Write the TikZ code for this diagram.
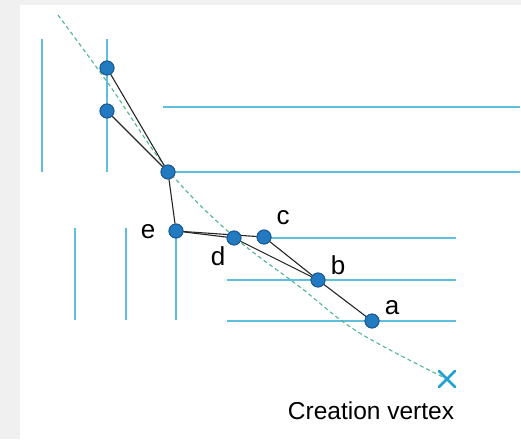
\documentclass[tikz,border=0pt]{standalone}
\usepackage{fontspec}
\setmainfont{Liberation Sans}
\usetikzlibrary{calc}
\definecolor{cGuide}{RGB}{ 94,190,224}
\definecolor{cVert} {RGB}{ 34,122,192}
\definecolor{cEdge} {RGB}{ 28, 88,148}
\definecolor{cPath} {RGB}{ 82,182,140}
\definecolor{cCross}{RGB}{ 34,160,214}
\definecolor{cShade}{RGB}{240,240,240}

\begin{document}
\begin{tikzpicture}[
  x=1pt, y=-1pt,
  %% guide lines (light blue)
  guide/.style={cGuide, line width=1.4pt},
  %% polygon vertex
  vtx/.style={
    circle, fill=cVert, draw=cEdge, line width=0.9pt,
    minimum size=14pt, inner sep=0pt
  },
  %% polygon edge
  edge/.style={black!85, line width=1.1pt},
  lbl/.style={font=\fontsize{26}{28}\selectfont, inner sep=1pt},
]

%% ── Frame ────────────────────────────────────────────────────────────────────
\fill[cShade] (0,0) rectangle (521,439);
\fill[white] (20,5) rectangle (521,439);
\useasboundingbox (0,0) rectangle (521,439);

%% ── Guide lines ──────────────────────────────────────────────────────────────
\draw[guide] (42,39) -- (42,172);
\draw[guide] (107,39) -- (107,172);
\draw[guide] (163,107) -- (520,107);
\draw[guide] (168,172) -- (520,172);
\draw[guide] (75,228) -- (75,320);
\draw[guide] (126,228) -- (126,320);
\draw[guide] (176,231) -- (176,320);
\draw[guide] (264,238) -- (456,238);
\draw[guide] (227,280) -- (456,280);
\draw[guide] (227,321) -- (456,321);

%% ── Dashed path to the creation vertex ───────────────────────────────────────
\coordinate (cv) at (447,379);
\draw[cPath, line width=1.1pt, dash pattern=on 4pt off 3pt]
  plot[smooth, tension=0.6] coordinates
  {(58,15) (110,86) (168,170) (232,235) (300,287) (358,332) (447,379)};

%% ── Vertices ─────────────────────────────────────────────────────────────────
\node[vtx] (p1) at (107,68)  {};
\node[vtx] (p2) at (107,111) {};
\node[vtx] (q)  at (168,172) {};
\node[vtx] (e)  at (176,231) {};
\node[vtx] (d)  at (234,238) {};
\node[vtx] (c)  at (264,237) {};
\node[vtx] (b)  at (318,280) {};
\node[vtx] (a)  at (372,321) {};

%% ── Edges ────────────────────────────────────────────────────────────────────
\draw[edge] (p1) -- (q);
\draw[edge] (p2) -- (q);
\draw[edge] (q) -- (e);
\draw[edge] (e) -- (d);
\draw[edge] (e) -- (c);
\draw[edge] (d) -- (b);
\draw[edge] (c) -- (b);
\draw[edge] (b) -- (a);

%% redraw vertices on top of edges
\foreach \v in {p1,p2,q,e,d,c,b,a}
  \fill[cVert, draw=cEdge, line width=0.9pt] (\v) circle (7pt);

%% ── Labels ───────────────────────────────────────────────────────────────────
\node[lbl] (la) at (392,308) {a};
\node[lbl] (lb) at (338,265) {b};
\node[lbl] (lc) at (283,218) {c};
\node[lbl] (ld) at (218,256) {d};
\node[lbl] (le) at (148,232) {e};

%% ── Creation vertex ──────────────────────────────────────────────────────────
\draw[cCross, line width=2.8pt, line cap=round]
  ($(cv)+(-8,-8)$) -- ($(cv)+(8,8)$)
  ($(cv)+(-8,8)$) -- ($(cv)+(8,-8)$);
\node[font=\fontsize{24.5}{28}\selectfont, anchor=center] (cvlabel)
  at (371,411) {Creation vertex};

\end{tikzpicture}
\end{document}
